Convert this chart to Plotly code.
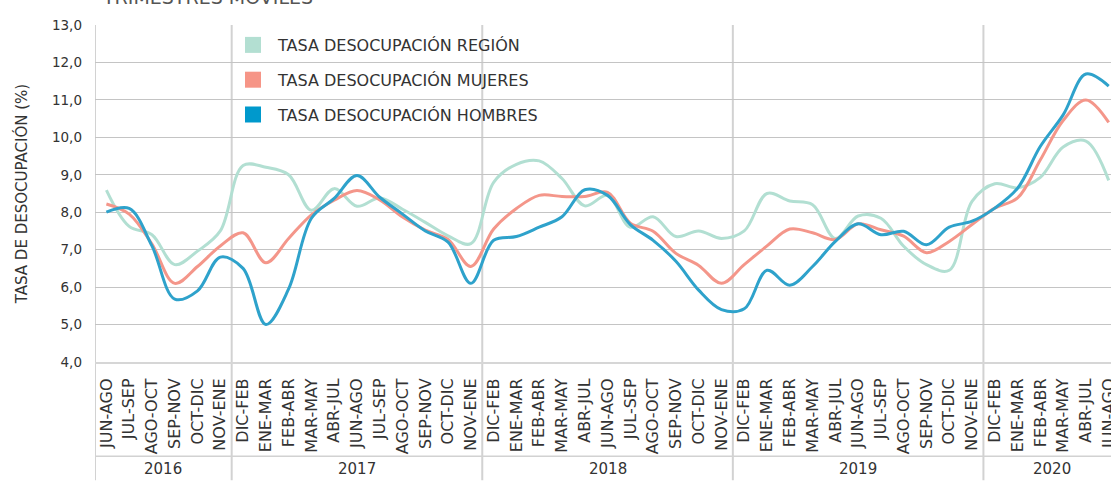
import plotly.graph_objects as go

months_2016 = ["JUN-AGO", "JUL-SEP", "AGO-OCT", "SEP-NOV", "OCT-DIC", "NOV-ENE"]
months_year = ["DIC-FEB", "ENE-MAR", "FEB-ABR", "MAR-MAY", "ABR-JUL", "JUN-AGO",
               "JUL-SEP", "AGO-OCT", "SEP-NOV", "OCT-DIC", "NOV-ENE"]
months_2020 = ["DIC-FEB", "ENE-MAR", "FEB-ABR", "MAR-MAY", "ABR-JUL", "JUN-AGO"]
years = ["2016", "2017", "2018", "2019", "2020"]
year_counts = [6, 11, 11, 11, 6]

tick_labels = months_2016 + months_year * 3 + months_2020

region = [8.59, 7.62, 7.40, 6.60, 6.96, 7.50, 9.25, 9.20, 9.00, 8.05, 8.63,
          8.16, 8.38, 8.08, 7.73, 7.37, 7.16, 8.80, 9.28, 9.37, 8.90, 8.17,
          8.45, 7.60, 7.88, 7.35, 7.50, 7.30, 7.50, 8.50, 8.30, 8.20, 7.30,
          7.90, 7.84, 7.09, 6.60, 6.45, 8.29, 8.76, 8.65, 8.93, 9.74, 9.90, 8.85]
mujeres = [8.22, 7.95, 7.15, 6.10, 6.55, 7.10, 7.45, 6.65, 7.30, 7.93, 8.32,
           8.58, 8.33, 7.87, 7.52, 7.27, 6.55, 7.55, 8.10, 8.45, 8.42, 8.42,
           8.53, 7.71, 7.49, 6.90, 6.58, 6.10, 6.60, 7.10, 7.55, 7.45, 7.27,
           7.69, 7.53, 7.36, 6.92, 7.22, 7.67, 8.11, 8.38, 9.40, 10.45, 11.00, 10.40]
hombres = [8.00, 8.10, 7.10, 5.68, 5.90, 6.80, 6.50, 5.00, 5.95, 7.84, 8.37,
           8.98, 8.40, 7.95, 7.50, 7.20, 6.10, 7.25, 7.35, 7.60, 7.88, 8.60,
           8.45, 7.67, 7.25, 6.69, 5.92, 5.40, 5.42, 6.45, 6.05, 6.55, 7.22,
           7.69, 7.40, 7.49, 7.13, 7.60, 7.76, 8.11, 8.64, 9.76, 10.60, 11.69, 11.37]

series = [
    ("TASA DESOCUPACIÓN REGIÓN", region, "#b2dfd2", "#b3dfd2"),
    ("TASA DESOCUPACIÓN MUJERES", mujeres, "#f4968a", "#f69587"),
    ("TASA DESOCUPACIÓN HOMBRES", hombres, "#2ea2cb", "#0099cc"),
]

x_idx = list(range(len(tick_labels)))
FONT = "'DejaVu Sans', sans-serif"
TXT = "#333333"

fig = go.Figure()
for name, vals, lc, mc in series:
    fig.add_trace(go.Scatter(
        x=x_idx, y=vals, mode="lines", name=name, showlegend=False,
        line=dict(color=lc, width=3, shape="spline", smoothing=1.0),
        hoverinfo="skip"))
for k, (name, vals, lc, mc) in enumerate(series):
    fig.add_trace(go.Scatter(
        x=[None], y=[None], mode="markers", name=name, legendgroup=f"g{k}",
        marker=dict(symbol="square", size=16, color=mc)))

W, H = 1111, 481
L, T, B = 95, 25, 118.5
plot_h = H - T - B

def py(pix):
    return (H - B - pix) / plot_h

shapes = []
bounds = [-0.5]
acc = -0.5
for c in year_counts[:-1]:
    acc += c
    bounds.append(acc)
for b in bounds:
    shapes.append(dict(type="line", xref="x", yref="paper", x0=b, x1=b,
                       y0=1, y1=py(H), line=dict(color="#d2d2d2", width=2), layer="below"))
shapes.append(dict(type="line", xref="paper", yref="paper", x0=0, x1=1,
                   y0=py(457), y1=py(457), line=dict(color="#d2d2d2", width=1.5), layer="below"))

annotations = []
start = 0
for yname, c in zip(years, year_counts):
    annotations.append(dict(x=start + (c - 1) / 2, y=py(470), xref="x", yref="paper",
                            text=yname, showarrow=False, xanchor="center", yanchor="middle",
                            font=dict(family=FONT, size=15, color=TXT)))
    start += c
annotations.append(dict(x=(100 - L) / (W - L), y=py(10), xref="paper", yref="paper",
                        text="TRIMESTRES MÓVILES", showarrow=False, xanchor="left", yanchor="bottom",
                        font=dict(family=FONT, size=19, color="#555555")))

fig.update_layout(
    width=W, height=H,
    margin=dict(l=L, r=0, t=T, b=B, pad=0, autoexpand=False),
    paper_bgcolor="white", plot_bgcolor="white",
    separators=",.",
    font=dict(family=FONT, size=14, color=TXT),
    showlegend=True,
    legend=dict(x=(228 - L) / (W - L), y=py(28), xanchor="left", yanchor="top",
                bgcolor="rgba(255,255,255,0)", font=dict(family=FONT, size=16, color=TXT),
                tracegroupgap=11, itemsizing="trace", itemwidth=40),
    shapes=shapes, annotations=annotations,
)
fig.update_xaxes(
    type="linear", range=[-0.5, (W - L) / 22.78 - 0.5], automargin=False,
    tickmode="array", tickvals=x_idx, ticktext=tick_labels, tickangle=-90,
    tickfont=dict(family=FONT, size=16, color=TXT), ticks="", showgrid=False,
    zeroline=False, showline=True, linecolor="#d6d6d6", linewidth=2, ticklabelstandoff=8,
    ticklabeloverflow="allow",
)
fig.update_yaxes(
    range=[4, 13], dtick=1, tickformat=".1f", showgrid=True, gridcolor="#c4c4c4", gridwidth=1,
    zeroline=False, showline=False, ticks="", ticklabelstandoff=12, automargin=False,
    tickfont=dict(family=FONT, size=13.5, color=TXT),
    title=dict(text="TASA DE DESOCUPACIÓN (%)", font=dict(family=FONT, size=15, color=TXT), standoff=20),
)
fig.write_html("out.html", config={"displayModeBar": False},
               post_script="document.body.style.margin='0';document.body.style.padding='0';")
